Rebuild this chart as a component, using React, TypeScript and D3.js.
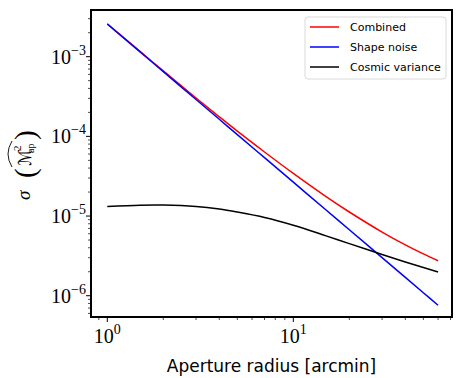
import React, { useEffect, useRef } from "react";
import * as d3 from "d3";

// aperture radii [arcmin]
const radii = [1, 1.5, 2, 3, 4, 5, 7, 10, 15, 20, 30, 40, 50, 60];
const combined = [2.583e-3, 1.164e-3, 6.63e-4, 3.03e-4, 1.76e-4, 1.162e-4, 6.37e-5, 3.43e-5, 1.754e-5, 1.124e-5, 6.3e-6, 4.35e-6, 3.35e-6, 2.75e-6];
const shapeNoise = [2.57e-3, 1.15e-3, 6.49e-4, 2.9e-4, 1.64e-4, 1.05e-4, 5.41e-5, 2.66e-5, 1.19e-5, 6.73e-6, 3.01e-6, 1.7e-6, 1.09e-6, 7.6e-7];
const cosmicVariance = [1.32e-5, 1.37e-5, 1.375e-5, 1.32e-5, 1.225e-5, 1.122e-5, 9.59e-6, 7.67e-6, 5.64e-6, 4.51e-6, 3.29e-6, 2.65e-6, 2.26e-6, 1.99e-6];

const seriesNames = ["Combined", "Shape noise", "Cosmic variance"];
const seriesColors = ["#ff0000", "#0000ff", "#000000"];
const xMajor = [1, 10];
const yMajor = [-3, -4, -5, -6];

const W = 463, H = 378;
const left = 91, right = 452, top = 10, bottom = 317;

export default function App() {
  const ref = useRef<SVGSVGElement>(null);

  useEffect(() => {
    const svg = d3.select(ref.current);
    svg.selectAll("*").remove();

    const x = d3.scaleLog().domain([Math.pow(10, -0.0876), Math.pow(10, 1.853)]).range([left, right]);
    const y = d3.scaleLog().domain([Math.pow(10, -6.267), Math.pow(10, -2.414)]).range([bottom, top]);

    const line = d3
      .line<[number, number]>()
      .x((d) => x(d[0]))
      .y((d) => y(d[1]))
      .curve(d3.curveCatmullRom.alpha(0.5));

    const all = [combined, shapeNoise, cosmicVariance];
    all.forEach((vals, i) => {
      svg
        .append("path")
        .attr("d", line(radii.map((r, j) => [r, vals[j]] as [number, number])))
        .attr("fill", "none")
        .attr("stroke", seriesColors[i])
        .attr("stroke-width", 1.5);
    });

    // ticks
    const xd = x.domain();
    const g = svg.append("g");
    x.ticks().forEach((t) => {
      if (t < xd[0] || t > xd[1]) return;
      const major = xMajor.indexOf(t) >= 0;
      g.append("line")
        .attr("x1", x(t)).attr("x2", x(t))
        .attr("y1", bottom).attr("y2", bottom + (major ? 5 : 3))
        .attr("stroke", "#000").attr("stroke-width", major ? 1 : 0.7);
    });
    const yd = y.domain();
    for (let e = -7; e <= -2; e++) {
      for (let m = 1; m <= 9; m++) {
        const v = m * Math.pow(10, e);
        if (v < yd[0] || v > yd[1]) continue;
        const major = m === 1;
        g.append("line")
          .attr("y1", y(v)).attr("y2", y(v))
          .attr("x1", left).attr("x2", left - (major ? 5 : 3))
          .attr("stroke", "#000").attr("stroke-width", major ? 1 : 0.7);
      }
    }

    // frame
    svg.append("rect")
      .attr("x", left).attr("y", top)
      .attr("width", right - left).attr("height", bottom - top)
      .attr("fill", "none").attr("stroke", "#000").attr("stroke-width", 2);

    const serif = "'Liberation Serif', 'DejaVu Serif', serif";
    // x tick labels
    xMajor.forEach((t, i) => {
      const tx = svg.append("text")
        .attr("x", x(t)).attr("y", 343)
        .attr("text-anchor", "middle")
        .attr("font-family", serif).attr("font-size", 20);
      tx.append("tspan").text("10");
      tx.append("tspan").attr("dy", -9).attr("font-size", 14).text(String(i));
    });
    // y tick labels
    yMajor.forEach((e) => {
      const ty = svg.append("text")
        .attr("x", 86).attr("y", y(Math.pow(10, e)) + 7)
        .attr("text-anchor", "end")
        .attr("font-family", serif).attr("font-size", 20);
      ty.append("tspan").text("10");
      ty.append("tspan").attr("dy", -9).attr("font-size", 14).text("\u2212" + String(-e));
    });

    // x label
    svg.append("text")
      .attr("x", (left + right) / 2).attr("y", 372)
      .attr("text-anchor", "middle")
      .attr("font-family", "'DejaVu Sans', sans-serif").attr("font-size", 17)
      .text("Aperture radius [arcmin]");

    // y label, laid out piece by piece in the rotated frame
    const yl = svg.append("g").attr("transform", "translate(30,200) rotate(-90)");
    const part = (txt: string, px: number, py: number, size: number, extra?: (s: any) => void) => {
      const s = yl.append("text")
        .attr("x", px).attr("y", py)
        .attr("font-family", serif).attr("font-size", size)
        .text(txt);
      if (extra) extra(s);
    };
    part("\u03c3", 0, 0, 19, (s) => s.attr("font-style", "italic"));
    part("(", 22, 5, 29);
    part("\u2133", 34, 1, 18, (s) =>
      s.attr("font-family", "'DejaVu Sans', sans-serif")
        .attr("textLength", 17).attr("lengthAdjust", "spacingAndGlyphs"));
    part("2", 49, -9, 11);
    part("ap", 47, 4, 10);
    part(")", 60, 5, 29);
    yl.append("path")
      .attr("d", "M33,-18 Q46,-26 59,-18")
      .attr("fill", "none").attr("stroke", "#000").attr("stroke-width", 0.9);

    // legend
    const lg = svg.append("g");
    lg.append("rect")
      .attr("x", 305).attr("y", 17).attr("width", 141).attr("height", 62).attr("rx", 3)
      .attr("fill", "#fff").attr("stroke", "#d9d9d9").attr("stroke-width", 1);
    seriesNames.forEach((name, i) => {
      const yy = 27 + i * 20;
      lg.append("line")
        .attr("x1", 310).attr("x2", 339).attr("y1", yy).attr("y2", yy)
        .attr("stroke", seriesColors[i]).attr("stroke-width", 1.5);
      lg.append("text")
        .attr("x", 350).attr("y", yy + 4)
        .attr("font-family", "'DejaVu Sans', sans-serif").attr("font-size", 11)
        .text(name);
    });
  }, []);

  return (
    <svg
      ref={ref}
      width={W}
      height={H}
      style={{ position: "absolute", left: 0, top: 0, background: "#fff" }}
    />
  );
}
